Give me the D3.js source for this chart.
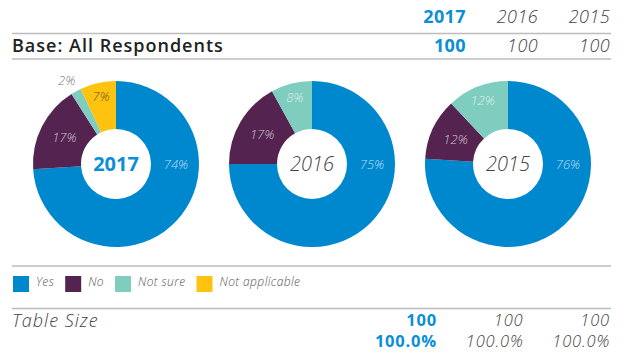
<!DOCTYPE html>
<html>
<head>
<meta charset="utf-8">
<script src="https://cdn.jsdelivr.net/npm/d3@7/dist/d3.min.js"></script>
<style>
  html, body { margin: 0; padding: 0; background: #fff; }
  svg { display: block; font-family: "Open Sans", "Lato", sans-serif; }
</style>
</head>
<body>
<svg id="chart" width="624" height="353"></svg>
<script>
// Survey answers by year
const years = ["2017", "2016", "2015"];
const categories = ["Yes", "No", "Not sure", "Not applicable"];
const values2017 = [74, 17, 2, 7];
const values2016 = [75, 17, 8, 0];
const values2015 = [76, 12, 12, 0];
const baseCounts = [100, 100, 100];
const tableSizes = [100, 100, 100];
const tableShares = [100.0, 100.0, 100.0];

const seriesByYear = { "2017": values2017, "2016": values2016, "2015": values2015 };

const colors = d3.scaleOrdinal()
  .domain(categories)
  .range(["#0088cf", "#54234f", "#7fcdbf", "#ffc20e"]);

const BLUE = "#0a8fd6";
const GREY_TEXT = "#444";
const RULE = "#bdbdbd";

const svg = d3.select("#chart");

// Column scales for the table rows
const headCol = d3.scalePoint().domain(years).range([466, 610]);
const footCol = d3.scalePoint().domain(years).range([437, 610]);
const pieX = d3.scalePoint().domain(years).range([116, 508]);

function yearStyle(sel, y) {
  const current = y === years[0];
  sel.attr("fill", current ? BLUE : GREY_TEXT)
     .attr("font-weight", current ? 700 : 300)
     .attr("font-style", current ? "normal" : "italic");
}

// Header rows
svg.selectAll("text.head").data(years).join("text")
  .attr("class", "head")
  .attr("x", d => headCol(d)).attr("y", 23)
  .attr("text-anchor", "end").attr("font-size", 18)
  .attr("letter-spacing", 0.4)
  .text(d => d)
  .each(function (d) { d3.select(this).call(yearStyle, d); });

svg.append("line").attr("x1", 12).attr("x2", 611).attr("y1", 33.5).attr("y2", 33.5)
  .attr("stroke", RULE).attr("stroke-width", 1.5);

svg.append("text").attr("x", 12).attr("y", 52)
  .attr("font-size", 18).attr("font-weight", 600).attr("fill", "#222")
  .attr("letter-spacing", 1)
  .text("Base: All Respondents");

svg.selectAll("text.base").data(years).join("text")
  .attr("class", "base")
  .attr("x", d => headCol(d)).attr("y", 52)
  .attr("text-anchor", "end").attr("font-size", 18)
  .attr("letter-spacing", 0.4)
  .text((d, i) => baseCounts[i])
  .each(function (d) { d3.select(this).call(yearStyle, d); });

svg.append("line").attr("x1", 12).attr("x2", 611).attr("y1", 59).attr("y2", 59)
  .attr("stroke", RULE).attr("stroke-width", 1.5);

// Donuts
const outerR = 83, innerR = 35, cy = 164;
const pie = d3.pie().sort(null).value(d => d.value);
const arc = d3.arc().innerRadius(innerR).outerRadius(outerR);

years.forEach(year => {
  const data = categories.map((c, i) => ({ cat: c, value: seriesByYear[year][i] }));
  const arcs = pie(data);
  const g = svg.append("g").attr("transform", `translate(${pieX(year)},${cy})`);

  g.selectAll("path").data(arcs.filter(a => a.data.value > 0)).join("path")
    .attr("d", arc)
    .attr("fill", a => colors(a.data.cat));

  g.selectAll("text.pct").data(arcs.filter(a => a.data.value > 0)).join("text")
    .attr("class", "pct")
    .each(function (a) {
      const mid = (a.startAngle + a.endAngle) / 2;
      let ang = mid, r, anchor = "middle", shift = 0;
      if (a.data.value > 50) { ang = Math.PI / 2; r = 60; }
      else if (a.data.value < 5) { r = 95; anchor = "end"; shift = 5; }
      else { r = mid > 5.8 ? 69 : 58; }
      const x = Math.sin(ang) * r + shift, y = -Math.cos(ang) * r;
      let fill = "rgba(255,255,255,0.72)";
      if (a.data.value < 5) fill = "#7a7a7a";
      else if (a.data.cat === "Not applicable") fill = "#6e5a26";
      d3.select(this)
        .attr("x", x).attr("y", y).attr("dy", "0.36em")
        .attr("text-anchor", anchor)
        .attr("font-size", 13).attr("font-style", "italic").attr("font-weight", 300)
        .attr("fill", fill)
        .text(a.data.value + "%");
    });

  g.append("text")
    .attr("y", 0).attr("dy", "0.36em").attr("text-anchor", "middle")
    .attr("font-size", 20)
    .text(year)
    .call(yearStyle, year);
});

// Legend
svg.append("line").attr("x1", 12).attr("x2", 611).attr("y1", 266).attr("y2", 266)
  .attr("stroke", RULE).attr("stroke-width", 1.5);

let lx = 13;
categories.forEach(c => {
  const item = svg.append("g").attr("transform", `translate(${lx},276)`);
  item.append("rect").attr("width", 16).attr("height", 16).attr("fill", colors(c));
  const t = item.append("text").attr("x", 23).attr("y", 9).attr("dy", "0.1em")
    .attr("font-size", 12).attr("font-style", "italic").attr("font-weight", 300)
    .attr("letter-spacing", 0.4)
    .attr("fill", "#555").text(c);
  lx += 23 + t.node().getComputedTextLength() + 11;
});

svg.append("line").attr("x1", 12).attr("x2", 611).attr("y1", 308.5).attr("y2", 308.5)
  .attr("stroke", RULE).attr("stroke-width", 1.5);

// Footer rows
svg.append("text").attr("x", 12).attr("y", 327)
  .attr("font-size", 18).attr("font-style", "italic").attr("font-weight", 300)
  .attr("letter-spacing", 1)
  .attr("fill", GREY_TEXT).text("Table Size");

svg.selectAll("text.size").data(years).join("text")
  .attr("class", "size")
  .attr("x", d => footCol(d)).attr("y", 326)
  .attr("text-anchor", "end").attr("font-size", 16.5)
  .attr("letter-spacing", 0.8)
  .text((d, i) => tableSizes[i])
  .each(function (d) { d3.select(this).call(yearStyle, d); });

svg.selectAll("text.share").data(years).join("text")
  .attr("class", "share")
  .attr("x", d => footCol(d)).attr("y", 347)
  .attr("text-anchor", "end").attr("font-size", 16.5)
  .attr("letter-spacing", 0.8)
  .text((d, i) => d3.format(".1f")(tableShares[i]) + "%")
  .each(function (d) { d3.select(this).call(yearStyle, d); });
</script>
</body>
</html>
